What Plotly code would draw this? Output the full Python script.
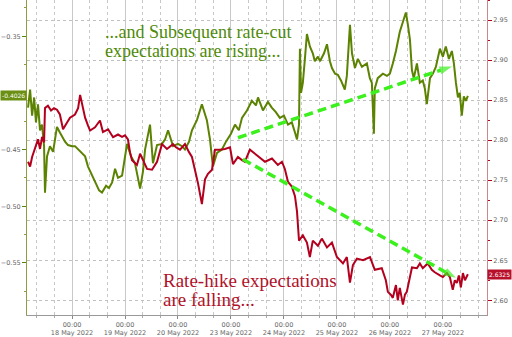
import plotly.graph_objects as go

green_times = [
    "2022-05-17 04:05", "2022-05-17 05:00", "2022-05-17 05:55", "2022-05-17 06:50", "2022-05-17 07:40",
    "2022-05-17 08:35", "2022-05-17 09:30", "2022-05-17 10:25", "2022-05-17 11:20", "2022-05-17 11:45",
    "2022-05-17 12:40", "2022-05-17 14:00", "2022-05-17 15:25", "2022-05-17 17:10", "2022-05-17 18:30",
    "2022-05-17 19:30", "2022-05-17 20:50", "2022-05-17 22:10",
    "2022-05-18 00:00", "2022-05-18 01:20", "2022-05-18 03:40", "2022-05-18 05:55", "2022-05-18 07:15",
    "2022-05-18 09:00", "2022-05-18 10:50", "2022-05-18 12:15", "2022-05-18 13:35", "2022-05-18 15:25",
    "2022-05-18 16:45", "2022-05-18 18:10", "2022-05-18 19:30", "2022-05-18 20:50", "2022-05-18 22:40",
    "2022-05-19 00:55", "2022-05-19 02:45", "2022-05-19 04:30", "2022-05-19 06:50", "2022-05-19 08:10",
    "2022-05-19 09:05", "2022-05-19 11:20", "2022-05-19 12:40", "2022-05-19 14:30", "2022-05-19 16:45",
    "2022-05-19 18:10", "2022-05-19 19:30", "2022-05-19 21:45",
    "2022-05-20 00:00", "2022-05-20 01:50", "2022-05-20 03:10", "2022-05-20 05:00", "2022-05-20 06:20",
    "2022-05-20 08:35", "2022-05-20 10:50", "2022-05-20 13:05", "2022-05-20 14:30", "2022-05-20 15:50",
    "2022-05-20 17:40", "2022-05-20 19:55", "2022-05-20 21:45",
    "2022-05-23 00:00", "2022-05-23 01:50", "2022-05-23 03:35", "2022-05-23 05:00", "2022-05-23 07:15",
    "2022-05-23 09:30", "2022-05-23 11:20", "2022-05-23 12:15", "2022-05-23 14:30", "2022-05-23 16:45",
    "2022-05-23 18:30", "2022-05-23 20:20", "2022-05-23 22:10",
    "2022-05-24 00:00", "2022-05-24 01:50", "2022-05-24 03:35", "2022-05-24 05:00", "2022-05-24 05:55",
    "2022-05-24 06:50", "2022-05-24 07:15", "2022-05-24 07:45", "2022-05-24 08:35", "2022-05-24 09:30",
    "2022-05-24 10:25", "2022-05-24 11:45", "2022-05-24 13:05", "2022-05-24 14:00", "2022-05-24 15:25",
    "2022-05-24 16:20", "2022-05-24 18:10", "2022-05-24 19:30", "2022-05-24 20:50", "2022-05-24 21:45",
    "2022-05-24 23:10",
    "2022-05-25 00:25", "2022-05-25 01:50", "2022-05-25 03:35", "2022-05-25 04:30", "2022-05-25 05:55",
    "2022-05-25 06:50", "2022-05-25 08:10", "2022-05-25 09:30", "2022-05-25 11:20", "2022-05-25 13:35",
    "2022-05-25 14:55", "2022-05-25 15:50", "2022-05-25 16:45", "2022-05-25 17:10", "2022-05-25 18:30",
    "2022-05-25 20:50", "2022-05-25 22:40",
    "2022-05-26 00:00", "2022-05-26 01:20", "2022-05-26 02:45", "2022-05-26 04:30", "2022-05-26 05:55",
    "2022-05-26 07:15", "2022-05-26 08:10", "2022-05-26 09:05", "2022-05-26 10:00", "2022-05-26 10:50",
    "2022-05-26 12:15", "2022-05-26 13:35", "2022-05-26 14:55", "2022-05-26 15:50", "2022-05-26 16:45",
    "2022-05-26 18:10", "2022-05-26 19:30", "2022-05-26 20:50", "2022-05-26 22:40",
    "2022-05-27 00:00", "2022-05-27 01:20", "2022-05-27 02:45", "2022-05-27 04:05", "2022-05-27 05:00",
    "2022-05-27 05:55", "2022-05-27 06:50", "2022-05-27 07:40", "2022-05-27 08:35", "2022-05-27 09:30",
    "2022-05-27 10:25", "2022-05-27 11:20",
]
green_values = [
    -0.413, -0.397, -0.420, -0.404, -0.426, -0.410, -0.433, -0.428, -0.447, -0.488, -0.456, -0.447,
    -0.452, -0.430, -0.435, -0.439, -0.443, -0.446,
    -0.447, -0.447, -0.452, -0.456, -0.465, -0.473, -0.480, -0.486, -0.488, -0.482, -0.484, -0.479,
    -0.467, -0.475, -0.473,
    -0.445, -0.456, -0.462, -0.4845, -0.469, -0.450, -0.428, -0.462, -0.446, -0.445, -0.441, -0.433, -0.447,
    -0.445, -0.447, -0.450, -0.443, -0.433, -0.424, -0.410, -0.424, -0.441, -0.465, -0.453, -0.450, -0.443,
    -0.436, -0.428, -0.433, -0.422, -0.4155, -0.407, -0.411, -0.404, -0.4155, -0.408, -0.413, -0.417, -0.422,
    -0.420, -0.428, -0.426, -0.435, -0.441, -0.428, -0.361, -0.400, -0.391, -0.370, -0.348, -0.359, -0.365,
    -0.372, -0.368, -0.372, -0.365, -0.357, -0.372, -0.378, -0.383,
    -0.384, -0.389, -0.397, -0.385, -0.340, -0.365, -0.378, -0.370, -0.377, -0.374, -0.387, -0.391, -0.436,
    -0.396, -0.387, -0.383, -0.385,
    -0.383, -0.374, -0.363, -0.346, -0.337, -0.329, -0.340, -0.353, -0.380, -0.387, -0.374, -0.391, -0.389,
    -0.396, -0.410, -0.387, -0.383, -0.377, -0.361,
    -0.368, -0.359, -0.370, -0.363, -0.374, -0.391, -0.404, -0.400, -0.420, -0.403, -0.407, -0.4026,
]

red_times = [
    "2022-05-17 04:05", "2022-05-17 05:00", "2022-05-17 05:55", "2022-05-17 07:15", "2022-05-17 08:35",
    "2022-05-17 09:30", "2022-05-17 10:25", "2022-05-17 11:20", "2022-05-17 11:45", "2022-05-17 13:05",
    "2022-05-17 14:30", "2022-05-17 15:50", "2022-05-17 17:10", "2022-05-17 18:30", "2022-05-17 19:55",
    "2022-05-17 21:45", "2022-05-17 23:05",
    "2022-05-18 01:20", "2022-05-18 02:45", "2022-05-18 03:40", "2022-05-18 04:30", "2022-05-18 05:55",
    "2022-05-18 07:15", "2022-05-18 08:10", "2022-05-18 10:25", "2022-05-18 12:40", "2022-05-18 14:00",
    "2022-05-18 16:20", "2022-05-18 18:35", "2022-05-18 20:50", "2022-05-18 22:40",
    "2022-05-19 00:00", "2022-05-19 01:20", "2022-05-19 02:15", "2022-05-19 03:10", "2022-05-19 05:25",
    "2022-05-19 06:50", "2022-05-19 08:10", "2022-05-19 10:00", "2022-05-19 12:15", "2022-05-19 14:30",
    "2022-05-19 16:45", "2022-05-19 19:00", "2022-05-19 21:45", "2022-05-19 23:05",
    "2022-05-20 00:55", "2022-05-20 03:10", "2022-05-20 05:00", "2022-05-20 06:20", "2022-05-20 07:40",
    "2022-05-20 09:05", "2022-05-20 10:50", "2022-05-20 12:15", "2022-05-20 13:35", "2022-05-20 15:25",
    "2022-05-20 16:45", "2022-05-20 19:00", "2022-05-20 21:15", "2022-05-20 23:35",
    "2022-05-23 00:55", "2022-05-23 03:10", "2022-05-23 05:00", "2022-05-23 06:20", "2022-05-23 08:35",
    "2022-05-23 10:50", "2022-05-23 12:15", "2022-05-23 15:25", "2022-05-23 18:35", "2022-05-23 21:15",
    "2022-05-23 23:05",
    "2022-05-24 00:25", "2022-05-24 01:50", "2022-05-24 03:35", "2022-05-24 05:00", "2022-05-24 05:55",
    "2022-05-24 06:50", "2022-05-24 08:35", "2022-05-24 10:25", "2022-05-24 11:45", "2022-05-24 13:05",
    "2022-05-24 15:25", "2022-05-24 17:10", "2022-05-24 19:30", "2022-05-24 21:45",
    "2022-05-25 00:00", "2022-05-25 02:45", "2022-05-25 04:30", "2022-05-25 05:55", "2022-05-25 07:15",
    "2022-05-25 09:05", "2022-05-25 11:50", "2022-05-25 15:00", "2022-05-25 17:10", "2022-05-25 20:20",
    "2022-05-25 22:10", "2022-05-25 23:05",
    "2022-05-26 00:25", "2022-05-26 01:20", "2022-05-26 02:45", "2022-05-26 03:35", "2022-05-26 04:30",
    "2022-05-26 05:55", "2022-05-26 06:50", "2022-05-26 07:40", "2022-05-26 09:05", "2022-05-26 10:00",
    "2022-05-26 12:15", "2022-05-26 13:35", "2022-05-26 14:55", "2022-05-26 17:10", "2022-05-26 19:00",
    "2022-05-26 20:20", "2022-05-26 22:40",
    "2022-05-27 00:00", "2022-05-27 01:50", "2022-05-27 03:10", "2022-05-27 04:30", "2022-05-27 05:25",
    "2022-05-27 06:20", "2022-05-27 07:15", "2022-05-27 08:10", "2022-05-27 09:05", "2022-05-27 10:00",
    "2022-05-27 11:20",
]
red_values = [
    2.773, 2.767, 2.779, 2.791, 2.801, 2.789, 2.804, 2.797, 2.840, 2.843, 2.837, 2.840, 2.838, 2.832,
    2.8135, 2.822, 2.828,
    2.832, 2.840, 2.8565, 2.847, 2.828, 2.818, 2.812, 2.816, 2.8245, 2.810, 2.8135, 2.8036, 2.807, 2.804,
    2.806, 2.801, 2.785, 2.775, 2.769, 2.783, 2.775, 2.764, 2.763, 2.773, 2.795, 2.789, 2.795, 2.791,
    2.788, 2.795, 2.785, 2.779, 2.763, 2.746, 2.720, 2.751, 2.758, 2.763, 2.788, 2.788, 2.789, 2.791,
    2.770, 2.779, 2.775, 2.773, 2.788, 2.783, 2.779, 2.773, 2.777, 2.769, 2.773,
    2.764, 2.748, 2.742, 2.730, 2.711, 2.6745, 2.681, 2.672, 2.654, 2.6745, 2.668, 2.677, 2.666, 2.672,
    2.654, 2.646, 2.654, 2.622, 2.644, 2.652, 2.650, 2.654, 2.638, 2.640, 2.625, 2.6105,
    2.607, 2.603, 2.619, 2.600, 2.6155, 2.5945, 2.607, 2.6105, 2.631, 2.641, 2.640, 2.646, 2.640, 2.646,
    2.638, 2.635, 2.631,
    2.629, 2.634, 2.629, 2.613, 2.625, 2.6216, 2.631, 2.616, 2.634, 2.625, 2.6325,
]

# trend arrows (right-axis units)
arrow_up_x = ["2022-05-23 03:10", "2022-05-27 04:05"]
arrow_up_y = [2.803, 2.892]
arrow_down_x = ["2022-05-23 05:25", "2022-05-27 05:55"]
arrow_down_y = [2.776, 2.628]

# -0.40 is hidden behind the last-value box in the reference
left_ticks = [-0.55, -0.50, -0.45, -0.35]
right_ticks = [2.60, 2.65, 2.70, 2.75, 2.80, 2.85, 2.90, 2.95]

GREEN = "#5b8200"
RED = "#b3001e"
LIME = "#3cf01e"
TICKFONT = dict(family="DejaVu Sans", size=6.5, color="#666666")

fig = go.Figure()
fig.add_trace(go.Scatter(x=green_times, y=green_values, mode="lines",
                         line=dict(color=GREEN, width=2), yaxis="y", hoverinfo="skip"))
fig.add_trace(go.Scatter(x=red_times, y=red_values, mode="lines",
                         line=dict(color=RED, width=2), yaxis="y2", hoverinfo="skip"))
for ax_x, ax_y in ((arrow_up_x, arrow_up_y), (arrow_down_x, arrow_down_y)):
    fig.add_trace(go.Scatter(x=ax_x, y=ax_y, mode="lines+markers", yaxis="y2",
                             line=dict(color=LIME, width=3.5, dash="9px,5px"),
                             marker=dict(symbol=["circle", "arrow"], size=[0, 13], color=LIME,
                                         angleref="previous", line=dict(width=0)),
                             hoverinfo="skip"))

fig.update_layout(
    width=512, height=337,
    margin=dict(l=27, r=25, t=0, b=17),
    paper_bgcolor="white", plot_bgcolor="white",
    showlegend=False,
    xaxis=dict(
        type="date",
        range=["2022-05-17 03:36", "2022-05-27 20:00"],
        rangebreaks=[dict(bounds=["sat", "mon"])],
        tick0="2022-05-18", dtick=86400000,
        tickformat="%H:%M<br>%d %b %Y",
        tickfont=TICKFONT,
        ticks="outside", ticklen=3, tickcolor="#888",
        showline=True, linecolor="#999", linewidth=1,
        showgrid=True, gridcolor="#c8c8c8", gridwidth=1,
        minor=dict(dtick=8 * 3600000, showgrid=True, gridcolor="#c8c8c8", griddash="dot",
                   ticks="outside", ticklen=2, tickcolor="#aaa"),
        zeroline=False,
    ),
    yaxis=dict(
        range=[-0.596, -0.318],
        tickvals=left_ticks, tickformat=".2f",
        tickfont=TICKFONT,
        ticks="outside", ticklen=4, tickcolor=GREEN,
        showline=True, linecolor="#8aa040", linewidth=1,
        showgrid=False, zeroline=False,
        minor=dict(dtick=0.025, ticks="outside", ticklen=2, tickcolor="#8aa040"),
    ),
    yaxis2=dict(
        range=[2.5816, 2.975], overlaying="y", side="right",
        tickvals=right_ticks, tickformat=".2f",
        tickfont=TICKFONT,
        ticks="outside", ticklen=4, tickcolor=RED,
        showline=True, linecolor="#c98a8a", linewidth=1,
        showgrid=True, gridcolor="#c0c0c0", griddash="dot",
        zeroline=False,
        minor=dict(dtick=0.025, tick0=2.6, ticks="outside", ticklen=2, tickcolor=RED),
    ),
)

serif = "Liberation Serif"
fig.add_annotation(text="...and Subsequent rate-cut", xref="paper", yref="paper", x=0.165, y=0.897,
                   xanchor="left", yanchor="middle", showarrow=False,
                   font=dict(family=serif, size=18, color="#4f8a0a"))
fig.add_annotation(text="expectations are rising...", xref="paper", yref="paper", x=0.165, y=0.8375,
                   xanchor="left", yanchor="middle", showarrow=False,
                   font=dict(family=serif, size=18, color="#4f8a0a"))
fig.add_annotation(text="Rate-hike expectations", xref="paper", yref="paper", x=0.292, y=0.109,
                   xanchor="left", yanchor="middle", showarrow=False,
                   font=dict(family=serif, size=19, color="#b0122a"))
fig.add_annotation(text="are falling...", xref="paper", yref="paper", x=0.292, y=0.05,
                   xanchor="left", yanchor="middle", showarrow=False,
                   font=dict(family=serif, size=19, color="#b0122a"))

fig.add_annotation(text=f"{green_values[-1]:.4f}", xref="paper", yref="y", x=0, y=green_values[-1],
                   xanchor="right", yanchor="middle", showarrow=False, bgcolor="#6a8f12",
                   font=dict(family="DejaVu Sans", size=6, color="white"), borderpad=1)
fig.add_annotation(text=f"{red_values[-1]:.4f}", xref="paper", yref="y2", x=1, y=red_values[-1],
                   xanchor="left", yanchor="middle", showarrow=False, bgcolor="#b8102a",
                   font=dict(family="DejaVu Sans", size=6, color="white"), borderpad=1)

fig.write_html("out.html")
